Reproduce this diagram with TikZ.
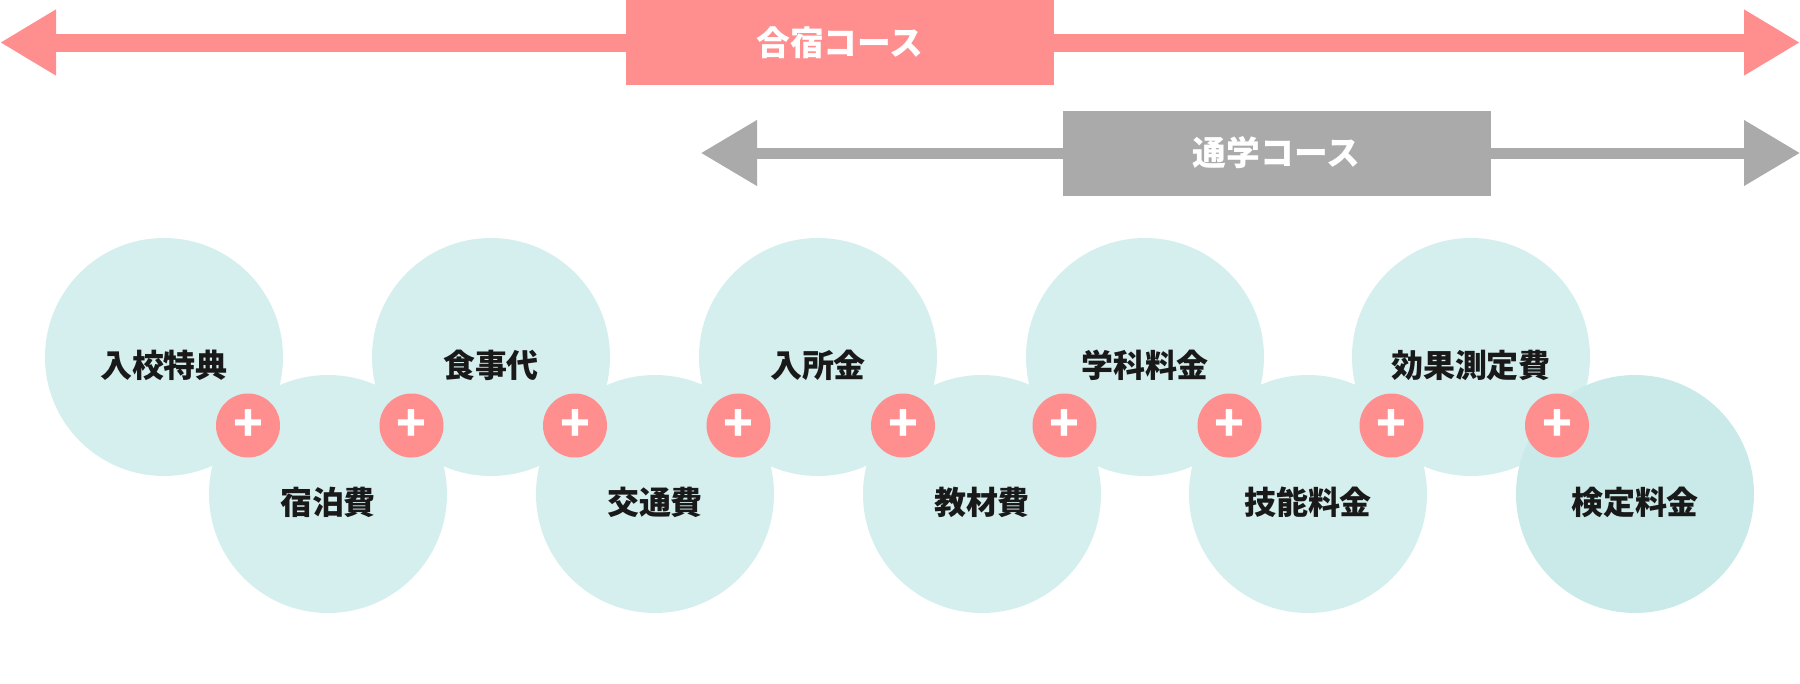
\documentclass[tikz,border=0pt]{standalone}
\usepackage{fontspec}
\setmainfont{Noto Sans CJK JP}
\usetikzlibrary{calc,arrows.meta}
\definecolor{camppink}{HTML}{FF8E8E}
\definecolor{commutegray}{HTML}{AAAAAA}
\definecolor{costmint}{HTML}{D5EFEE}
\definecolor{costmintdark}{HTML}{C9EAE9}
\newcommand{\costlabel}[1]{\raisebox{-0.08cm}[\height][\depth]{#1}}

\begin{document}
\begin{tikzpicture}[every node/.style={align=center,inner sep=0pt},
  course/.style={minimum width=4.28cm,minimum height=0.85cm,text=white,font=\fontsize{9.6pt}{11pt}\selectfont\bfseries},
  cost/.style={circle,fill=costmint,minimum size=2.38cm,text=black!90,font=\fontsize{9.1pt}{11pt}\selectfont\bfseries},
  plus/.style={circle,fill=camppink,minimum size=0.64cm,text=white,font=\fontsize{14pt}{14pt}\selectfont\bfseries}]
\useasboundingbox (0,0) rectangle (18,-6.84);
% course bars
\node[course,fill=camppink] (camp) at (8.40,-0.425) {合宿コース};
\node[course,fill=commutegray] (commute) at (12.765,-1.53) {通学コース};
\coordinate (campL) at (0,-0.425);
\coordinate (campR) at (18,-0.425);
\coordinate (commuteL) at (7.01,-1.53);
\coordinate (commuteR) at (18,-1.53);
\draw[camppink,line width=0.18cm,shorten <=-1pt,-{Triangle[length=0.56cm,width=0.62cm]}] (camp.west)--(campL);
\draw[camppink,line width=0.18cm,shorten <=-1pt,-{Triangle[length=0.56cm,width=0.62cm]}] (camp.east)--(campR);
\draw[commutegray,line width=0.11cm,shorten <=-1pt,-{Triangle[length=0.56cm,width=0.63cm]}] (commute.west)--(commuteL);
\draw[commutegray,line width=0.11cm,shorten <=-1pt,-{Triangle[length=0.56cm,width=0.63cm]}] (commute.east)--(commuteR);
% cost circles
\node[cost] (c1) at (1.64,-3.57) {\costlabel{入校特典}};
\node[cost] (c2) at (3.28,-4.94) {\costlabel{宿泊費}};
\node[cost] (c3) at (4.91,-3.57) {\costlabel{食事代}};
\node[cost] (c4) at (6.55,-4.94) {\costlabel{交通費}};
\node[cost] (c5) at (8.18,-3.57) {\costlabel{入所金}};
\node[cost] (c6) at (9.82,-4.94) {\costlabel{教材費}};
\node[cost] (c7) at (11.45,-3.57) {\costlabel{学科料金}};
\node[cost] (c8) at (13.08,-4.94) {\costlabel{技能料金}};
\node[cost] (c9) at (14.71,-3.57) {\costlabel{効果測定費}};
\node[cost,fill=costmintdark] (c10) at (16.35,-4.94) {\costlabel{検定料金}};
% plus signs
\node[plus] (p1) at ($(c1)!.5!(c2)+(0.02,0)$) {+};
\node[plus] (p2) at ($(c2)!.5!(c3)+(0.02,0)$) {+};
\node[plus] (p3) at ($(c3)!.5!(c4)+(0.02,0)$) {+};
\node[plus] (p4) at ($(c4)!.5!(c5)+(0.02,0)$) {+};
\node[plus] (p5) at ($(c5)!.5!(c6)+(0.03,0)$) {+};
\node[plus] (p6) at ($(c6)!.5!(c7)+(0.01,0)$) {+};
\node[plus] (p7) at ($(c7)!.5!(c8)+(0.03,0)$) {+};
\node[plus] (p8) at ($(c8)!.5!(c9)+(0.02,0)$) {+};
\node[plus] (p9) at ($(c9)!.5!(c10)+(0.04,0)$) {+};
\end{tikzpicture}
\end{document}
